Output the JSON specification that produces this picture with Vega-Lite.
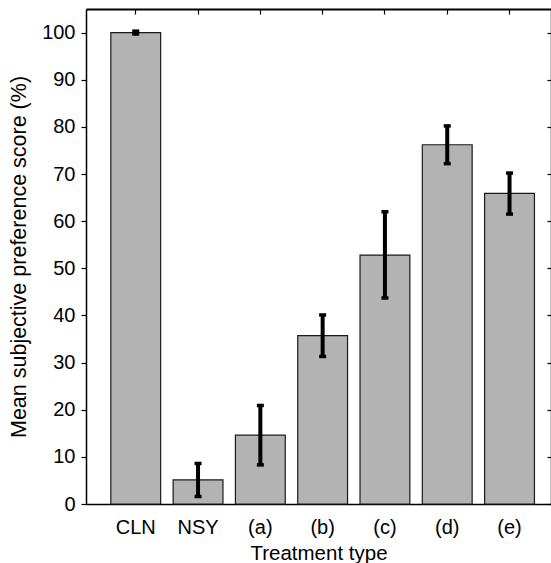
{
  "$schema": "https://vega.github.io/schema/vega-lite/v6.json",
  "autosize": {"type": "none"},
  "padding": {"left": 86, "top": 9, "right": 0, "bottom": 59},
  "width": 465,
  "height": 495,
  "background": "white",
  "config": {
    "view": {"stroke": null},
    "font": "Liberation Sans",
    "axis": {
      "domainColor": "black",
      "domainWidth": 1.5,
      "tickColor": "black",
      "tickWidth": 1.2,
      "labelColor": "black",
      "titleColor": "black",
      "labelFont": "Liberation Sans",
      "titleFont": "Liberation Sans",
      "labelFontSize": 20,
      "titleFontSize": 20,
      "titleFontWeight": "normal",
      "grid": false
    }
  },
  "data": {
    "values": [
      {"treatment": "CLN", "mean": 100.0, "lo": 99.7, "hi": 100.3},
      {"treatment": "NSY", "mean": 5.1, "lo": 1.6, "hi": 8.6},
      {"treatment": "(a)", "mean": 14.6, "lo": 8.3, "hi": 20.9},
      {"treatment": "(b)", "mean": 35.7, "lo": 31.3, "hi": 40.1},
      {"treatment": "(c)", "mean": 52.8, "lo": 43.7, "hi": 62.0},
      {"treatment": "(d)", "mean": 76.2, "lo": 72.2, "hi": 80.2},
      {"treatment": "(e)", "mean": 65.9, "lo": 61.5, "hi": 70.2}
    ]
  },
  "layer": [
    {
      "mark": {"type": "bar", "fill": "#b3b3b3", "stroke": "#1a1a1a", "strokeWidth": 1.2},
      "encoding": {
        "x": {
          "field": "treatment", "type": "nominal", "sort": null,
          "scale": {"paddingInner": 0.2, "paddingOuter": 0.332, "align": 0.6},
          "axis": {"orient": "bottom", "title": "Treatment type", "titleFontSize": 20.5, "labelAngle": 0, "ticks": false, "labelPadding": 13, "titlePadding": 6}
        },
        "y": {
          "field": "mean", "type": "quantitative",
          "scale": {"domain": [0, 105], "nice": false, "zero": true},
          "axis": {"orient": "left", "title": "Mean subjective preference score (%)", "titleFontSize": 21.5, "values": [0,10,20,30,40,50,60,70,80,90,100], "tickSize": 5, "labelPadding": 6, "titlePadding": 11}
        }
      }
    },
    {
      "mark": {"type": "rule", "strokeWidth": 4, "color": "black"},
      "encoding": {
        "x": {"field": "treatment", "type": "nominal", "sort": null,
          "axis": {"orient": "top", "title": null, "labels": false, "tickSize": -5, "domainWidth": 2}},
        "y": {"field": "lo", "type": "quantitative",
          "axis": {"orient": "right", "title": null, "labels": false, "tickSize": -4, "values": [0,10,20,30,40,50,60,70,80,90,100]}},
        "y2": {"field": "hi"}
      }
    },
    {
      "mark": {"type": "tick", "color": "black", "size": 7, "thickness": 3.5, "opacity": 1},
      "encoding": {
        "x": {"field": "treatment", "type": "nominal", "sort": null,
          "axis": {"orient": "bottom", "title": null, "labels": false, "tickSize": -3, "domain": false}},
        "y": {"field": "lo", "type": "quantitative", "axis": null}
      }
    },
    {
      "mark": {"type": "tick", "color": "black", "size": 7, "thickness": 3.5, "opacity": 1},
      "encoding": {
        "x": {"field": "treatment", "type": "nominal", "sort": null, "axis": null},
        "y": {"field": "hi", "type": "quantitative", "axis": null}
      }
    }
  ],
  "resolve": {"axis": {"x": "independent", "y": "independent"}}
}
